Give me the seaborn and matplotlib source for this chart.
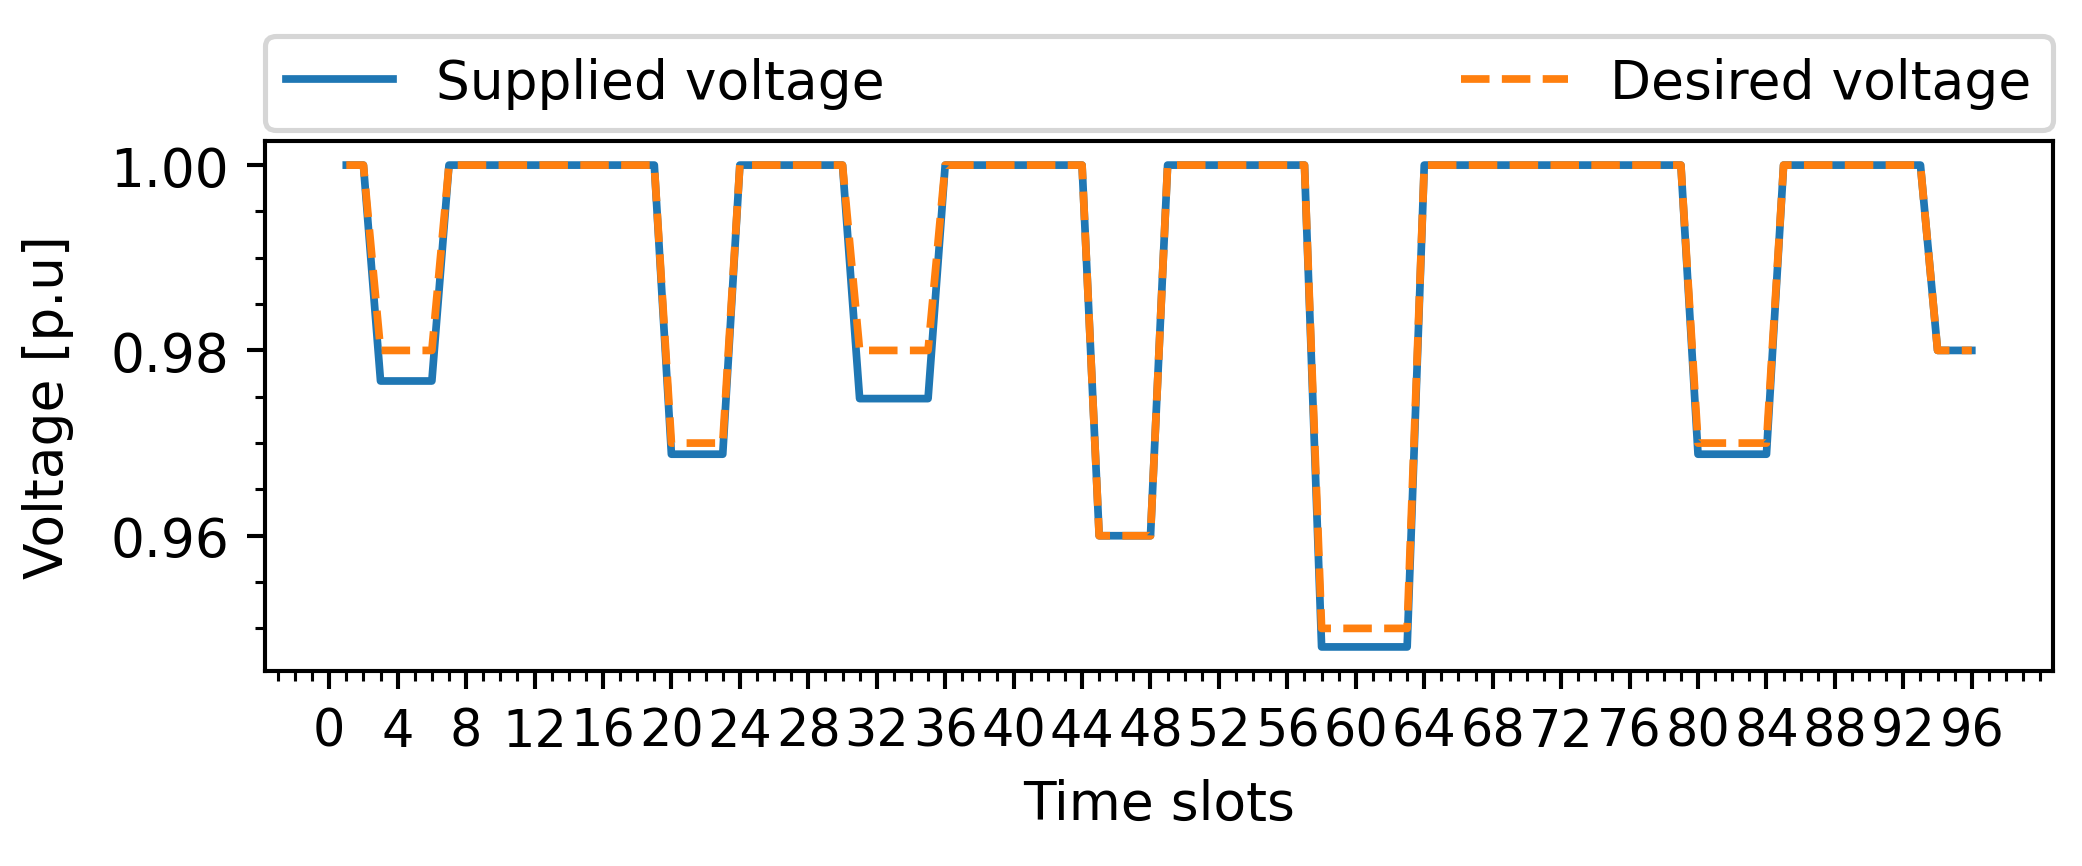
import numpy as np
import pandas as pd
import matplotlib
matplotlib.use("Agg")
import matplotlib.pyplot as plt
import matplotlib.ticker as mticker
import seaborn as sns

# ── Data ─────────────────────────────────────────────────────
time_slots = list(range(1, 97))

supplied_voltage = [
    1.0, 1.0, 0.9767, 0.9767, 0.9767, 0.9767, 1.0, 1.0,
    1.0, 1.0, 1.0, 1.0, 1.0, 1.0, 1.0, 1.0,
    1.0, 1.0, 1.0, 0.9688, 0.9688, 0.9688, 0.9688, 1.0,
    1.0, 1.0, 1.0, 1.0, 1.0, 1.0, 0.9748, 0.9748,
    0.9748, 0.9748, 0.9748, 1.0, 1.0, 1.0, 1.0, 1.0,
    1.0, 1.0, 1.0, 1.0, 0.96, 0.96, 0.96, 0.96,
    1.0, 1.0, 1.0, 1.0, 1.0, 1.0, 1.0, 1.0,
    1.0, 0.948, 0.948, 0.948, 0.948, 0.948, 0.948, 1.0,
    1.0, 1.0, 1.0, 1.0, 1.0, 1.0, 1.0, 1.0,
    1.0, 1.0, 1.0, 1.0, 1.0, 1.0, 1.0, 0.9688,
    0.9688, 0.9688, 0.9688, 0.9688, 1.0, 1.0, 1.0, 1.0,
    1.0, 1.0, 1.0, 1.0, 1.0, 0.98, 0.98, 0.98,
]

desired_voltage = [
    1.0, 1.0, 0.98, 0.98, 0.98, 0.98, 1.0, 1.0,
    1.0, 1.0, 1.0, 1.0, 1.0, 1.0, 1.0, 1.0,
    1.0, 1.0, 1.0, 0.97, 0.97, 0.97, 0.97, 1.0,
    1.0, 1.0, 1.0, 1.0, 1.0, 1.0, 0.98, 0.98,
    0.98, 0.98, 0.98, 1.0, 1.0, 1.0, 1.0, 1.0,
    1.0, 1.0, 1.0, 1.0, 0.96, 0.96, 0.96, 0.96,
    1.0, 1.0, 1.0, 1.0, 1.0, 1.0, 1.0, 1.0,
    1.0, 0.95, 0.95, 0.95, 0.95, 0.95, 0.95, 1.0,
    1.0, 1.0, 1.0, 1.0, 1.0, 1.0, 1.0, 1.0,
    1.0, 1.0, 1.0, 1.0, 1.0, 1.0, 1.0, 0.97,
    0.97, 0.97, 0.97, 0.97, 1.0, 1.0, 1.0, 1.0,
    1.0, 1.0, 1.0, 1.0, 1.0, 0.98, 0.98, 0.98,
]

x_ticks = list(range(0, 97, 4))

df = pd.DataFrame({
    "slot": time_slots,
    "supplied": supplied_voltage,
    "desired": desired_voltage,
})

# ── Style ────────────────────────────────────────────────────
plt.rcParams["font.size"] = 10.4
plt.rcParams["xtick.labelsize"] = 9.9

# ── Figure ───────────────────────────────────────────────────
DPI = 370
fig, ax = plt.subplots(figsize=(2082 / DPI, 867 / DPI), dpi=DPI)
fig.subplots_adjust(left=0.1273, right=0.9861, top=0.8362, bottom=0.2249)

sns.lineplot(data=df, x="slot", y="supplied", ax=ax, color="#1f77b4",
             linewidth=1.5, label="Supplied voltage")
sns.lineplot(data=df, x="slot", y="desired", ax=ax, color="#ff7f0e",
             linewidth=1.5, linestyle="--", label="Desired voltage")

ax.set_xticks(x_ticks)
ax.xaxis.set_minor_locator(mticker.MultipleLocator(1))
ax.yaxis.set_major_locator(mticker.MultipleLocator(0.02))
ax.yaxis.set_minor_locator(mticker.AutoMinorLocator(4))
ax.yaxis.set_major_formatter(mticker.FormatStrFormatter("%.2f"))

ax.set_xlabel("Time slots")
ax.set_ylabel("Voltage [p.u]", labelpad=7)

ax.legend(bbox_to_anchor=(0, 1.02, 1, 0.2), loc="lower left",
          mode="expand", ncol=2, borderaxespad=0)

fig.savefig("out.png", dpi=DPI)
